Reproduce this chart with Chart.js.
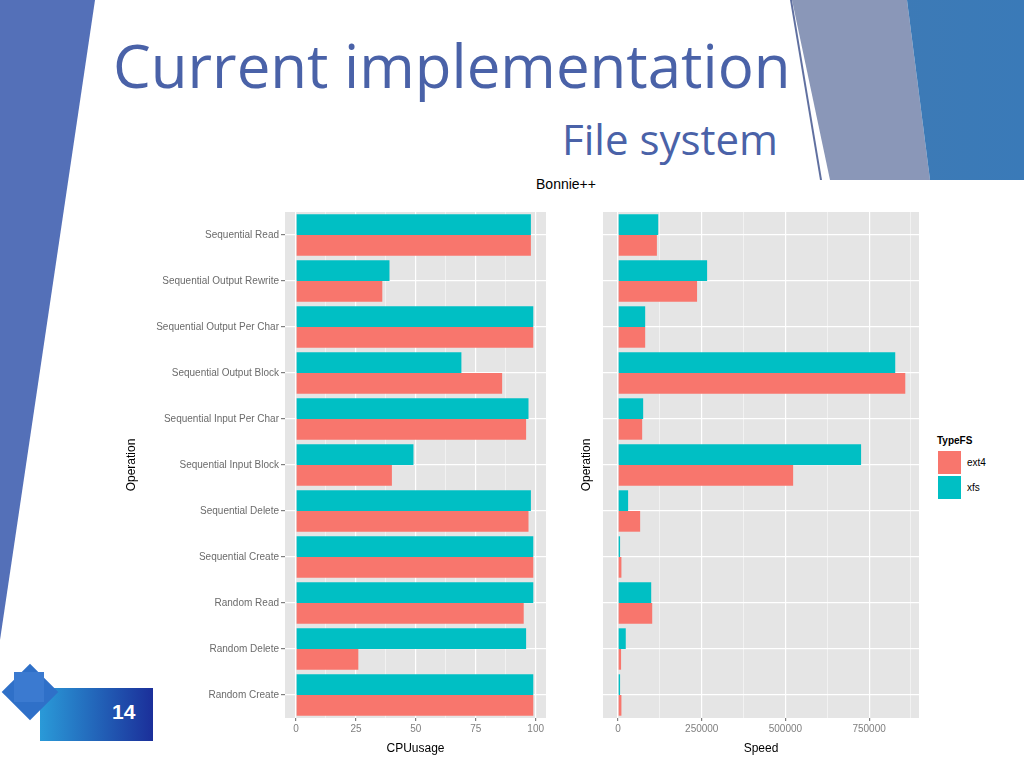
<!DOCTYPE html>
<html><head><meta charset="utf-8">
<script src="https://cdn.jsdelivr.net/npm/chart.js@4"></script>
<style>
body{margin:0;width:1024px;height:768px;position:relative;overflow:hidden;background:#fff;font-family:"Open Sans",Arial,sans-serif}
.abs{position:absolute}
</style></head><body>
<div class="abs" style="left:0;top:0;width:100px;height:650px;background:#5470b8;clip-path:polygon(0 0,95px 0,0 640px)"></div>
<div class="abs" style="left:780px;top:0;width:244px;height:180px;background:#8a97b8;clip-path:polygon(12px 0,127px 0,150px 180px,50px 180px)"></div>
<div class="abs" style="left:780px;top:0;width:244px;height:180px;clip-path:polygon(10px 0,12px 0,42px 180px,40px 180px);background:#6070a0"></div>
<div class="abs" style="left:780px;top:0;width:244px;height:180px;background:linear-gradient(90deg,#3f7ab4,#3a7ab8);clip-path:polygon(127px 0,244px 0,244px 180px,150px 180px)"></div>
<div class="abs" style="left:113px;top:23px;font-family:'Open Sans',sans-serif;font-size:60px;color:#4a62a8;line-height:84px;white-space:nowrap">Current implementation</div>
<div class="abs" style="left:562px;top:111px;font-size:42px;color:#4a62a8;line-height:56px;white-space:nowrap">File system</div>
<div class="abs" style="left:466px;top:176px;width:200px;text-align:center;font-family:'Liberation Sans',Arial;font-size:14px;color:#000">Bonnie++</div>
<div class="abs" style="left:40px;top:688px;width:113px;height:53px;background:linear-gradient(90deg,#2a9ad8,#1b2f9a)"></div>
<div class="abs" style="background:#2f70c8;transform:rotate(45deg);left:10px;top:672px;width:40px;height:40px"></div>
<div class="abs" style="left:14px;top:672px;width:30px;height:30px;background:#3b7ad0"></div>
<div class="abs" style="left:112px;top:700px;font-family:'Liberation Sans',Arial;font-weight:bold;font-size:21px;color:#fff">14</div>
<div class="abs" style="left:120px;top:195px;width:432px;height:565px"><canvas id="c1"></canvas></div>
<div class="abs" style="left:575px;top:195px;width:350px;height:565px"><canvas id="c2"></canvas></div>
<div class="abs" style="left:937px;top:434px;font-family:'Liberation Sans',Arial;font-size:10px;line-height:14px">
<div style="font-weight:bold">TypeFS</div>
<div style="display:flex;align-items:center;margin-top:2px"><span style="display:inline-block;width:23px;height:23px;background:#f8766d;margin-right:5px;border:1px solid #fff"></span>ext4</div>
<div style="display:flex;align-items:center"><span style="display:inline-block;width:23px;height:23px;background:#00bfc4;margin-right:5px;border:1px solid #fff"></span>xfs</div>
</div>
<script>
const categories=["Sequential Read","Sequential Output Rewrite","Sequential Output Per Char","Sequential Output Block","Sequential Input Per Char","Sequential Input Block","Sequential Delete","Sequential Create","Random Read","Random Delete","Random Create"];
const cpuExt4=[98,36,99,86,96,40,97,99,95,26,99];
const cpuXfs=[98,39,99,69,97,49,98,99,99,96,99];
const speedExt4=[116000,236000,81000,858000,72000,523000,66000,10000,102000,9000,10000];
const speedXfs=[120000,266000,81000,828000,75000,726000,30000,6000,99000,23000,6000];
const cpuTicks=[0,25,50,75,100];
const speedTicks=[0,250000,500000,750000];
const RED='#f8766d',CYAN='#00bfc4';
const bg={id:'bg',beforeDraw(c){const a=c.chartArea,x=c.ctx;x.save();x.fillStyle='#e5e5e5';x.fillRect(a.left,a.top,a.right-a.left,a.bottom-a.top);x.restore();}};
function make(id,ext,xfs,min,max,step,major,yw,showLabels){
 const isMaj=(ctx)=>major.includes(ctx.tick&&ctx.tick.value);
 new Chart(document.getElementById(id),{type:'bar',
 data:{labels:categories,datasets:[{label:'xfs',data:xfs,backgroundColor:CYAN},{label:'ext4',data:ext,backgroundColor:RED}]},
 options:{indexAxis:'y',responsive:true,maintainAspectRatio:false,animation:false,
  categoryPercentage:0.9,barPercentage:1,
  layout:{padding:{top:17,right:6}},
  plugins:{legend:{display:false},tooltip:{enabled:false}},
  scales:{
   x:{min:min,max:max,
    afterBuildTicks(s){const t=[];for(let v=0;v<=max;v+=step)t.push({value:v});s.ticks=t;},
    afterFit(s){s.height=42;},
    grid:{color:'#ffffff',lineWidth:(ctx)=>isMaj(ctx)?1.2:0.5,drawTicks:true,tickColor:(ctx)=>isMaj(ctx)?'#7f7f7f':'rgba(0,0,0,0)',tickLength:3,z:0},
    border:{display:false},
    ticks:{autoSkip:false,maxRotation:0,color:'#7f7f7f',font:{family:'Liberation Sans',size:10},padding:2,
     callback:(v)=>major.includes(v)?String(v):''},
    title:{display:true,text:id==='c1'?'CPUusage':'Speed',color:'#000',font:{family:'Liberation Sans',size:12},padding:{top:0}}},
   y:{afterFit(s){s.width=yw;},
    grid:{color:'#ffffff',lineWidth:1.2,offset:false,drawTicks:showLabels,tickColor:'#7f7f7f',tickLength:4},
    border:{display:false},
    ticks:{display:showLabels,color:'#6b6b6b',font:{family:'Liberation Sans',size:10},padding:2},
    title:{display:true,text:'Operation',color:'#000',font:{family:'Liberation Sans',size:12},padding:{bottom:showLabels?2:0}}}
  }},plugins:[bg]});
}
make('c1',cpuExt4,cpuXfs,-4.6,104.3,12.5,cpuTicks,165,true);
make('c2',speedExt4,speedXfs,-45000,899000,125000,speedTicks,28,false);
</script>
</body></html>
